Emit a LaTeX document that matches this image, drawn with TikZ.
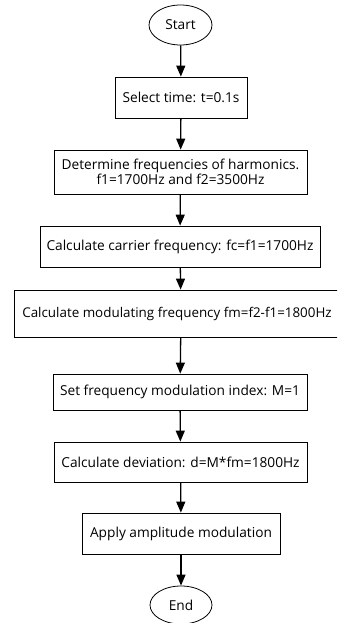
\documentclass[tikz,border=0pt]{standalone}
\usepackage{fontspec}
\setmainfont{Open Sans}
\usetikzlibrary{shapes.geometric,arrows.meta}
\begin{document}
\begin{tikzpicture}[x=1pt,y=-1pt,
  box/.style={draw, line width=0.8pt, inner sep=0pt, font=\fontsize{13.7}{15}\selectfont, align=center},
  term/.style={draw, ellipse, line width=0.8pt, inner sep=0pt, font=\fontsize{13.7}{15}\selectfont},
  flow/.style={line width=1.3pt, -{Triangle[length=11pt,width=9pt]}}]
\useasboundingbox (0,0) rectangle (337,623);
\clip (0,0) rectangle (337,623);
\node[term, minimum width=63pt, minimum height=40pt] (start) at (180.5,25) {Start};
\node[box, minimum width=132pt, minimum height=41pt] (b1) at (181,97.5) {Select time: t=0.1s};
\node[box, minimum width=253pt, minimum height=44pt] (b2) at (180.5,172) {Determine frequencies of harmonics.\\ f1=1700Hz and f2=3500Hz};
\node[box, minimum width=280pt, minimum height=41pt] (b3) at (180,246.5) {Calculate carrier frequency: fc=f1=1700Hz};
\node[box, minimum width=334pt, minimum height=47pt, font=\fontsize{13.4}{15}\selectfont] (b4) at (181,313.5) {\hspace*{-8pt}Calculate modulating frequency fm=f2-f1=1800Hz};
\node[box, minimum width=254pt, minimum height=36pt] (b5) at (180,392) {Set frequency modulation index: M=1};
\node[box, minimum width=253pt, minimum height=40pt] (b6) at (180.5,462) {Calculate deviation: d=M*fm=1800Hz};
\node[box, minimum width=198pt, minimum height=41pt] (b7) at (181,533.5) {Apply amplitude modulation};
\node[term, minimum width=62pt, minimum height=38pt] (end) at (181,605) {End};
\draw[flow] (start) -- (b1);
\draw[flow] (b1) -- (b2);
\draw[flow] (b2) -- (b3);
\draw[flow] (b3) -- (b4);
\draw[flow] (b4) -- (b5);
\draw[flow] (b5) -- (b6);
\draw[flow] (b6) -- (b7);
\draw[flow] (b7) -- (end);
\end{tikzpicture}
\end{document}
